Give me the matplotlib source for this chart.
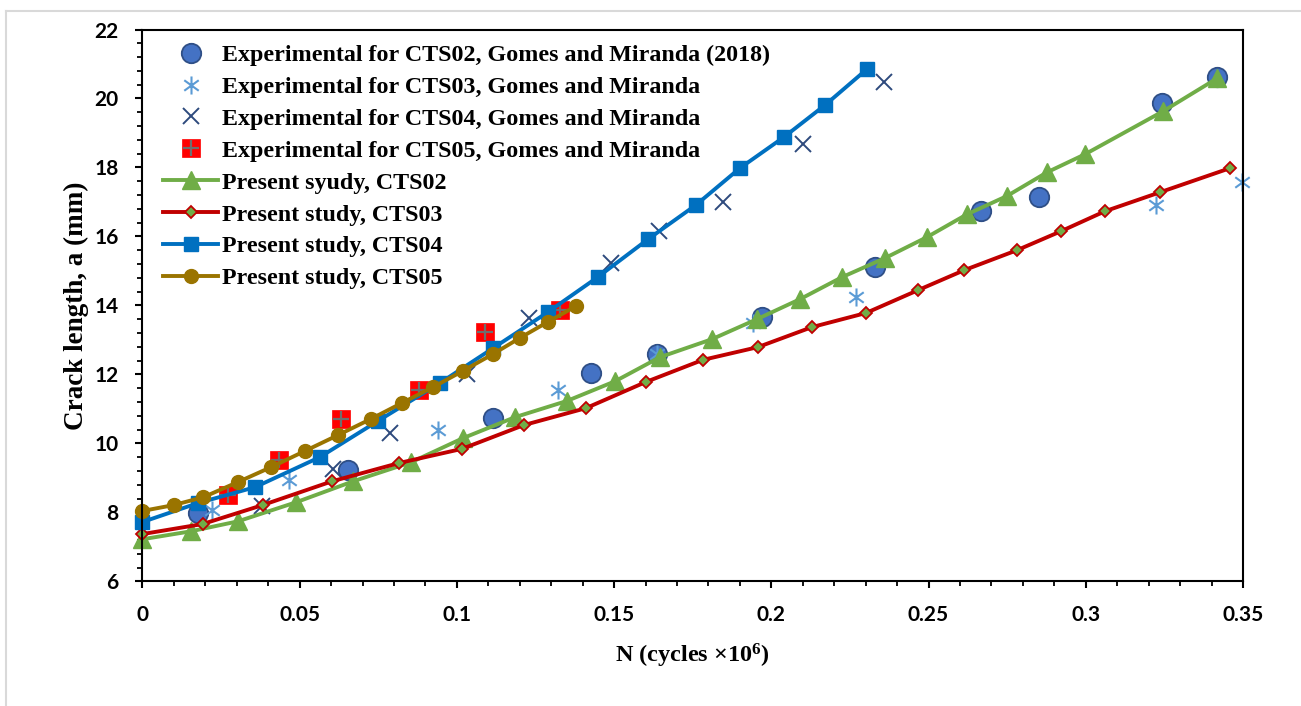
import matplotlib
matplotlib.use("Agg")
import matplotlib.pyplot as plt
from matplotlib.path import Path
from matplotlib.lines import Line2D
from matplotlib.ticker import MultipleLocator, FuncFormatter

# ---- Experimental data (Gomes and Miranda) ----
exp02_n = [0.0177, 0.0654, 0.1115, 0.1426, 0.1636, 0.1970, 0.2329, 0.2667, 0.2851, 0.3242, 0.3417]
exp02_a = [7.98, 9.23, 10.73, 12.04, 12.59, 13.66, 15.11, 16.74, 17.14, 19.87, 20.62]

exp03_n = [0.0221, 0.0466, 0.0940, 0.1321, 0.1636, 0.1941, 0.2269, 0.3223, 0.3497]
exp03_a = [8.07, 8.94, 10.39, 11.55, 12.59, 13.49, 14.24, 16.91, 17.58]

exp04_n = [0.0380, 0.0606, 0.0787, 0.1032, 0.1229, 0.1490, 0.1643, 0.1846, 0.2101, 0.2358]
exp04_a = [8.18, 9.26, 10.30, 12.01, 13.64, 15.23, 16.16, 17.00, 18.68, 20.48]

exp05_n = [0.0272, 0.0434, 0.0631, 0.0879, 0.1089, 0.1328]
exp05_a = [8.50, 9.52, 10.71, 11.55, 13.23, 13.87]

# ---- Present study ----
pre02_n = [0.0, 0.0154, 0.0304, 0.0488, 0.0670, 0.0854, 0.1019, 0.1185, 0.1350, 0.1503,
           0.1646, 0.1811, 0.1954, 0.2091, 0.2225, 0.2361, 0.2495, 0.2622, 0.2749, 0.2877,
           0.2997, 0.3246, 0.3417]
pre02_a = [7.22, 7.45, 7.74, 8.29, 8.90, 9.45, 10.15, 10.76, 11.23, 11.80,
           12.50, 13.02, 13.60, 14.18, 14.82, 15.37, 15.98, 16.64, 17.17, 17.86,
           18.38, 19.63, 20.58]

pre03_n = [0.0, 0.0191, 0.0382, 0.0603, 0.0816, 0.1016, 0.1213, 0.1410, 0.1601, 0.1782,
           0.1957, 0.2129, 0.2301, 0.2466, 0.2613, 0.2781, 0.2921, 0.3061, 0.3236, 0.3459]
pre03_a = [7.37, 7.66, 8.21, 8.90, 9.43, 9.84, 10.53, 11.02, 11.78, 12.42,
           12.79, 13.37, 13.78, 14.44, 15.02, 15.60, 16.15, 16.73, 17.28, 17.98]

pre04_n = [0.0, 0.0177, 0.0358, 0.0564, 0.0749, 0.0946, 0.1115, 0.1290, 0.1448, 0.1608,
           0.1760, 0.1900, 0.2040, 0.2171, 0.2304]
pre04_a = [7.72, 8.27, 8.73, 9.60, 10.65, 11.75, 12.76, 13.81, 14.82, 15.92,
           16.91, 17.98, 18.88, 19.81, 20.85]

pre05_n = [0.0, 0.0099, 0.0194, 0.0304, 0.0409, 0.0517, 0.0622, 0.0727, 0.0825, 0.0924,
           0.1019, 0.1115, 0.1201, 0.1289, 0.1379]
pre05_a = [8.04, 8.21, 8.44, 8.88, 9.31, 9.78, 10.24, 10.71, 11.17, 11.63,
           12.10, 12.59, 13.06, 13.52, 13.98]

labels = [
    "Experimental for CTS02, Gomes and Miranda (2018)",
    "Experimental for CTS03, Gomes and Miranda",
    "Experimental for CTS04, Gomes and Miranda",
    "Experimental for CTS05, Gomes and Miranda",
    "Present syudy, CTS02",
    "Present study, CTS03",
    "Present study, CTS04",
    "Present study, CTS05",
]

serif = "Liberation Serif"
plt.rcParams["mathtext.fontset"] = "custom"
plt.rcParams["mathtext.rm"] = "Liberation Serif:bold"
plt.rcParams["mathtext.bf"] = "Liberation Serif:bold"
plt.rcParams["mathtext.it"] = "Liberation Serif:bold"

# Asterisk marker: vertical stroke plus a cross
asterisk = Path(
    [(0, -1), (0, 1), (-0.8, -0.58), (0.8, 0.58), (-0.8, 0.58), (0.8, -0.58)],
    [Path.MOVETO, Path.LINETO, Path.MOVETO, Path.LINETO, Path.MOVETO, Path.LINETO],
)

fig = plt.figure(figsize=(13.01, 7.06), dpi=100)
ax = fig.add_axes([0.1095, 0.1766, 0.8459, 0.7816])

common = dict(clip_on=False)

h02, = ax.plot(exp02_n, exp02_a, ls="none", marker="o", ms=14, mfc="#4472C4",
               mec="#2F4F86", mew=1.3, **common)
h03, = ax.plot(exp03_n, exp03_a, ls="none", marker=asterisk, ms=13, mec="#5B9BD5",
               mew=1.5, **common)
h04, = ax.plot(exp04_n, exp04_a, ls="none", marker="x", ms=12, mec="#2E4A7D",
               mew=1.4, **common)
h05a, = ax.plot(exp05_n, exp05_a, ls="none", marker="s", ms=12.5, mfc="#FF0000",
                mec="#FF0000", mew=0.5, **common)
h05b, = ax.plot(exp05_n, exp05_a, ls="none", marker="+", ms=11, mec="#6E6E6E",
                mew=1.6, **common)

p02, = ax.plot(pre02_n, pre02_a, color="#70AD47", lw=2.8, marker="^", ms=13,
               mfc="#70AD47", mec="#70AD47", **common)
p03, = ax.plot(pre03_n, pre03_a, color="#C00000", lw=2.8, marker="D", ms=6.6,
               mfc="#70AD47", mec="#C00000", mew=1.3, **common)
p04, = ax.plot(pre04_n, pre04_a, color="#0070C0", lw=2.8, marker="s", ms=10.5,
               mfc="#0070C0", mec="#0070C0", **common)
p05, = ax.plot(pre05_n, pre05_a, color="#9A7400", lw=2.8, marker="o", ms=10,
               mfc="#9A7400", mec="#9A7400", **common)

ax.set_xlim(0, 0.35)
ax.set_ylim(6, 22)
ax.xaxis.set_major_locator(MultipleLocator(0.05))
ax.xaxis.set_minor_locator(MultipleLocator(0.01))
ax.yaxis.set_major_locator(MultipleLocator(2))
ax.yaxis.set_minor_locator(MultipleLocator(0.4))
ax.xaxis.set_major_formatter(FuncFormatter(lambda v, p: f"{v:g}"))
ax.yaxis.set_major_formatter(FuncFormatter(lambda v, p: f"{v:.0f}"))

ax.tick_params(which="major", direction="out", length=5, width=1.5, pad=12,
               top=False, right=False)
ax.tick_params(which="minor", direction="out", length=3.5, width=1.3,
               top=False, right=False)
for lab in ax.get_xticklabels() + ax.get_yticklabels():
    lab.set_fontfamily("Lato")
    lab.set_fontweight("bold")
    lab.set_fontsize(15)

for s in ax.spines.values():
    s.set_linewidth(1.5)
    s.set_color("black")

ax.set_xlabel(r"N (cycles ×10$^{\mathbf{6}}$)", fontfamily=serif, fontweight="bold",
              fontsize=17.5, labelpad=12)
ax.set_ylabel("Crack length, a (mm)", fontfamily=serif, fontweight="bold",
              fontsize=19.5, labelpad=4)

leg = ax.legend([h02, h03, h04, (h05a, h05b), p02, p03, p04, p05], labels,
                loc="upper left", bbox_to_anchor=(0.0186, 0.9734), frameon=False,
                prop={"family": serif, "weight": "bold", "size": 17.3},
                handlelength=2.3, handletextpad=0.17, labelspacing=0.42,
                borderaxespad=0, borderpad=0)

# light outer frame
fig.add_artist(Line2D([6 / 1301, 6 / 1301], [0, 1 - 11 / 706], color="#D9D9D9", lw=1.5,
                      transform=fig.transFigure))
fig.add_artist(Line2D([6 / 1301, 1], [1 - 11 / 706, 1 - 11 / 706], color="#D9D9D9", lw=1.5,
                      transform=fig.transFigure))

fig.savefig("out.png", dpi=100)
